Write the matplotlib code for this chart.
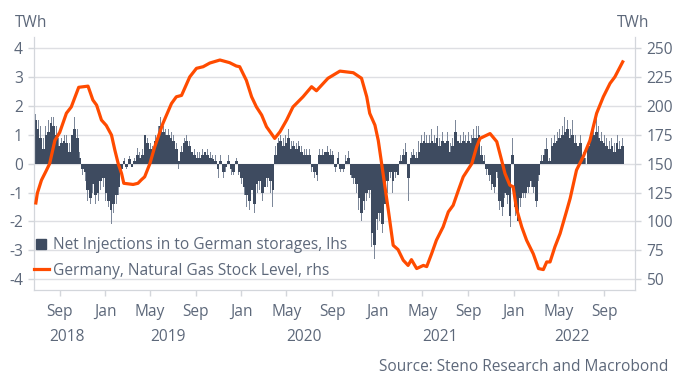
import matplotlib
matplotlib.use("Agg")
import matplotlib.pyplot as plt
import matplotlib.dates as mdates
from matplotlib.lines import Line2D
from matplotlib.transforms import blended_transform_factory
import pandas as pd

plt.rcParams['font.family'] = ['Open Sans', 'DejaVu Sans']
plt.rcParams['axes.unicode_minus'] = False

# ---------------- data ----------------
# weekly net injections (TWh/day, lhs), first week starting 2018-07-12
inj_start = "2018-07-12"
# typical level of the daily bars in each week
injections = [
    1.5, 1.2, 0.9, 0.5, 1.0, 1.1, 1.4, 1.3, 1.0, 0.6,
    0.7, 0.8, 0.7, 0.4, 1.0, 1.2, 0.9, 0.2, -0.2, -0.3,
    -0.9, -1.2, -0.7, -1.1, -1.0, -0.6, -0.5, -1.0, -1.3, -1.6,
    -1.4, -1.1, -0.8, -0.2, 0.1, -0.1, 0.15, -0.1, 0.1,
    0.3, 0.2, 0.3, 1.0, 0.7, 0.5, 0.4, 0.8, 1.0, 1.3,
    1.1, 1.0, 1.0, 0.9, 0.8, 0.5, 0.1, 0.4, 0.7, 0.8,
    0.6, 0.4, 0.3, 0.2, 0.2, 0.3, 0.4, 0.3, 0.2, 0.15,
    0.1, -0.2, 0.1, -0.3, -0.1, 0.1,
    -0.2, -0.3, 0.1, -0.3, -0.5, -0.8, -1.1, -1.3, -0.9, -1.4,
    -0.7, -0.6, -1.0, -0.8, -0.5, -0.6, -0.9, 0.3, 0.7, 0.8,
    0.6, 0.7, 0.9, 0.5, 0.6, 0.5, 0.6, 0.4, 0.3, 0.3,
    0.3, -0.1, -0.3, -0.4, 0.3, 0.3, 0.4, 0.4,
    0.3, 0.3, -0.1, 0.2, -0.2, -0.2, 0.1, 0.2, -0.4, -0.5,
    -0.7, -1.2, -1.7, -1.3, -1.0, -0.9, -2.4, -2.8, -1.9, -1.7,
    -2.1, -1.4, -0.6, -0.3, -0.6, -0.3, -0.4, 0.1, 0.3, 0.4,
    -0.5, 0.2, 0.3, 0.2, 0.4, 0.7, 0.8, 0.7,
    0.7, 0.8, 0.7, 0.9, 0.6, 0.8, 0.7, 0.8, 0.4, 0.6,
    1.1, 0.8, 0.7, 0.8, 0.7, 0.8, 0.7, 0.9, 0.9, 1.0,
    0.3, 0.1, -0.2, -0.4, -0.7, -0.8, -0.3, -1.3, -1.5, -1.0,
    -1.1, -1.8, 0.3, -1.5, -2.0, -1.2, -1.0, -1.0, -0.8,
    -0.6, -0.8, -1.3, -0.4, 0.1, 0.3, 0.5, 0.1, 0.6, 0.7,
    0.8, 0.9, 1.0, 1.1, 1.2, 0.9, 1.0, 0.7, 0.6, 0.7,
    0.2, 0.0, 0.6, 0.9, 1.0, 1.1, 0.9, 0.8, 0.7, 0.6,
    0.5, 0.6, 0.4, 0.7, 0.5, 0.6,
]
# most extreme daily spike in each week
injection_spikes = [
    1.7, 1.5, 1.3, 0.9, 1.3, 1.5, 1.6, 1.6, 1.3, 0.9,
    0.9, 1.0, 1.0, 0.7, 1.3, 1.6, 1.2, 0.4, -0.4, -0.6,
    -1.3, -1.4, -1.0, -1.4, -1.3, -0.9, -0.8, -1.3, -1.5, -2.1,
    -1.7, -1.4, -1.1, -0.4, 0.2, -0.2, 0.25, -0.2, 0.2,
    0.55, 0.4, 0.5, 1.4, 0.9, 0.7, 0.6, 1.0, 1.3, 1.6,
    1.3, 1.2, 1.2, 1.1, 1.0, 0.7, -0.2, 0.6, 0.9, 1.0,
    0.8, 0.6, 0.5, 0.4, 0.4, 0.5, 0.6, 0.5, 0.4, 0.3,
    0.3, -0.5, 0.3, -0.5, -0.3, 0.3,
    -0.4, -0.4, 0.2, -0.4, -0.7, -1.1, -1.5, -1.6, -1.2, -1.7,
    -1.0, -0.9, -1.3, -1.1, -0.8, -1.0, -1.5, 0.6, 0.9, 1.0,
    0.9, 1.0, 1.2, 0.8, 0.8, 0.7, 0.8, 0.6, 0.5, 0.5,
    0.5, -0.3, -0.5, -0.6, 0.5, 0.5, 0.6, 0.6,
    0.5, 0.45, -0.3, 0.4, -0.3, -0.3, 0.3, 0.45, -0.5, -0.7,
    -1.0, -1.6, -2.0, -1.6, -1.3, -1.2, -2.9, -3.3, -2.3, -2.0,
    -2.4, -1.8, -1.0, -0.5, -1.0, -0.5, -0.6, 0.3, 0.5, 0.7,
    -1.3, 0.4, 0.5, 0.4, 0.8, 1.0, 1.1, 1.0,
    1.0, 1.2, 1.0, 1.3, 0.9, 1.1, 1.0, 1.1, 0.7, 0.9,
    1.5, 1.1, 1.0, 1.1, 1.0, 1.1, 1.0, 1.2, 1.3, 1.3,
    0.6, 0.3, -0.4, -0.6, -0.9, -1.0, -0.5, -1.6, -1.8, -1.2,
    -1.4, -2.2, 0.9, -1.8, -2.2, -1.5, -1.2, -1.2, -1.0,
    -0.8, -1.0, -1.5, -0.6, 0.3, 0.5, 0.9, 0.2, 0.9, 1.0,
    1.1, 1.2, 1.3, 1.6, 1.5, 1.2, 1.5, 1.0, 0.9, 1.0,
    0.4, 0.2, 0.8, 1.2, 1.4, 1.6, 1.3, 1.1, 1.0, 0.9,
    0.8, 0.9, 0.7, 1.0, 0.8, 0.9,
]

# stock level (TWh, rhs)
stock_dates = [
    "2018-07-13", "2018-07-17", "2018-07-28", "2018-08-10", "2018-08-19", "2018-09-02",
    "2018-09-15", "2018-10-03", "2018-10-16", "2018-11-05", "2018-11-30", "2018-12-13",
    "2018-12-23", "2019-01-05", "2019-01-18", "2019-02-01", "2019-02-10", "2019-02-19",
    "2019-02-28", "2019-03-06", "2019-03-31", "2019-04-13", "2019-04-22", "2019-05-01",
    "2019-05-15", "2019-05-28", "2019-06-19", "2019-07-12", "2019-07-25", "2019-08-08",
    "2019-08-30", "2019-09-17", "2019-10-05", "2019-10-23", "2019-11-19", "2019-12-15",
    "2020-01-02", "2020-01-11", "2020-01-29", "2020-02-12", "2020-02-25", "2020-03-10",
    "2020-03-23", "2020-04-05", "2020-04-14", "2020-04-28", "2020-05-16", "2020-06-02",
    "2020-06-29", "2020-07-22", "2020-08-04", "2020-09-04", "2020-10-06", "2020-11-11",
    "2020-12-03", "2020-12-17", "2020-12-25", "2021-01-08", "2021-01-17", "2021-01-26",
    "2021-02-13", "2021-02-26", "2021-03-11", "2021-03-25", "2021-04-07", "2021-04-16",
    "2021-04-30", "2021-05-18", "2021-05-27", "2021-06-09", "2021-06-22", "2021-07-10",
    "2021-07-24", "2021-08-06", "2021-08-20", "2021-09-02", "2021-09-25", "2021-10-08",
    "2021-10-17", "2021-11-13", "2021-12-01", "2021-12-14", "2021-12-23", "2022-01-05",
    "2022-01-14", "2022-01-23", "2022-02-06", "2022-02-19", "2022-03-09", "2022-03-23",
    "2022-04-05", "2022-04-14", "2022-04-23", "2022-05-06", "2022-05-20", "2022-06-07",
    "2022-06-16", "2022-07-03", "2022-07-21", "2022-08-08", "2022-08-26", "2022-09-13",
    "2022-10-01", "2022-10-14", "2022-11-04",
]
stock_level = [
    116, 124.5, 135.7, 144, 150, 170,
    177, 193.6, 199, 216, 217, 205,
    200.6, 187.7, 183, 174.7, 161.7, 150,
    141.5, 133, 132, 133, 136, 138.6,
    150, 164.5, 184.8, 202, 207.8, 209,
    225, 232.4, 233.8, 237, 239.6, 237.3,
    234.4, 233.8, 222, 207.8, 199, 192,
    181.9, 176, 171.8, 177.5, 187.7, 199,
    207.8, 216.5, 213, 223.8, 230, 228.6,
    223.8, 207.8, 193.5, 183.3, 170, 150,
    109.7, 79.4, 75.7, 66.5, 62, 67,
    59.3, 62, 61, 72, 83.8, 95.3,
    108.3, 114, 127, 138.6, 150, 164.5,
    171.8, 176, 169, 153, 141.5, 131.4,
    130, 111, 95.3, 83.8, 72, 59.3,
    58.4, 65, 65, 78, 89.6, 109.7,
    120, 144.4, 156, 170, 193.5, 207.8,
    219.4, 225, 238,
]

left_ticks = [-4, -3, -2, -1, 0, 1, 2, 3, 4]
right_ticks = [50, 75, 100, 125, 150, 175, 200, 225, 250]
month_tick_dates = ["2018-09-15", "2019-01-15", "2019-05-15", "2019-09-15", "2020-01-15",
                    "2020-05-15", "2020-09-15", "2021-01-15", "2021-05-15", "2021-09-15",
                    "2022-01-15", "2022-05-15", "2022-09-15"]
month_labels = ["Sep", "Jan", "May", "Sep", "Jan", "May", "Sep", "Jan", "May", "Sep",
                "Jan", "May", "Sep"]
years = [2018, 2019, 2020, 2021, 2022]

# ---------------- style ----------------
BAR = "#3e4b60"
SPIKE = "#7d889a"
ORANGE = "#ff4b00"
TXT = "#5d687a"
GRID = "#dedfe3"
SPINE = "#d3d6db"
FS = 11.2

fig = plt.figure(figsize=(6.8, 3.89), dpi=100)
ax = fig.add_axes([34 / 680, 1 - 290 / 389, (635 - 34) / 680, (290 - 36.7) / 389])
ax2 = ax.twinx()

inj_dates = pd.date_range(inj_start, periods=len(injections), freq="7D")
xb = mdates.date2num(inj_dates.to_pydatetime())
ax.bar(xb, injection_spikes, width=2.5, color=SPIKE, linewidth=0, align="center", zorder=2)
ax.bar(xb, injections, width=7.0, color=BAR, linewidth=0, align="center", zorder=2.5)

xs = mdates.date2num(pd.to_datetime(stock_dates).to_pydatetime())
ax2.plot(xs, stock_level, color=ORANGE, lw=2.3, solid_joinstyle="round", zorder=3)

ylo, yhi = -4.37, 4.39
ax.set_ylim(ylo, yhi)
ax2.set_ylim(150 + 25 * ylo, 150 + 25 * yhi)
xmin = mdates.date2num(pd.Timestamp("2018-07-08"))
xmax = mdates.date2num(pd.Timestamp("2022-12-07"))
ax.set_xlim(xmin, xmax)

ax.set_yticks(left_ticks)
ax.set_yticklabels([str(t) for t in left_ticks])
ax2.set_yticks(right_ticks)
ax2.set_yticklabels([str(t) for t in right_ticks])
ax.yaxis.grid(True, color=GRID, lw=1.0, zorder=0)
ax.set_axisbelow(True)

mt = mdates.date2num(pd.to_datetime(month_tick_dates).to_pydatetime())
ax.set_xticks(mt)
ax.set_xticklabels(month_labels)

for a in (ax, ax2):
    for s in a.spines.values():
        s.set_color(SPINE)
    a.spines["top"].set_visible(False)
    a.tick_params(colors=SPINE, labelcolor=TXT, labelsize=FS, length=4, width=1)
ax.tick_params(axis="x", pad=6)
ax.tick_params(axis="y", pad=4)
ax2.tick_params(axis="y", pad=4)

# year labels centered on visible part of each year
trans = blended_transform_factory(ax.transData, ax.transAxes)
for y in years:
    a0 = max(mdates.date2num(pd.Timestamp(f"{y}-01-01")), xmin)
    a1 = min(mdates.date2num(pd.Timestamp(f"{y + 1}-01-01")), xmax)
    ax.text((a0 + a1) / 2, -0.184, str(y), transform=trans, ha="center", va="center",
            fontsize=FS, color=TXT)

fig.text(15 / 680, 1 - 23 / 389, "TWh", ha="left", va="center", fontsize=FS, color=TXT)
fig.text(617 / 680, 1 - 23 / 389, "TWh", ha="left", va="center", fontsize=FS, color=TXT)
fig.text(668 / 680, 1 - 367 / 389, "Source: Steno Research and Macrobond", ha="right",
         va="center", fontsize=FS, color=TXT)

handles = [Line2D([], [], marker="s", color=BAR, linestyle="none", markersize=6.5),
           Line2D([], [], color=ORANGE, lw=2.3)]
labels = ["Net Injections in to German storages, lhs", "Germany, Natural Gas Stock Level, rhs"]
leg = ax2.legend(handles, labels, loc="lower left", bbox_to_anchor=(0.0, 0.045),
                 frameon=False, fontsize=FS, labelcolor=TXT, handlelength=0.95,
                 handletextpad=0.25, labelspacing=0.62, borderaxespad=0.0, borderpad=0.0)

fig.savefig("out.png", dpi=100, facecolor="white")
